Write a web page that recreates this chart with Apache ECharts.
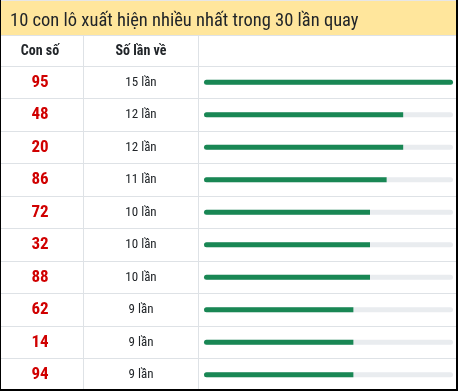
<!DOCTYPE html>
<html><head><meta charset="utf-8">
<script src="https://cdn.jsdelivr.net/npm/echarts@6/dist/echarts.min.js"></script>
<style>html,body{margin:0;padding:0;background:#fff}#c{width:458px;height:391px}</style>
</head><body><div id="c"></div>
<script>
const titleText = '10 con lô xuất hiện nhiều nhất trong 30 lần quay';
const headers = ['Con số', 'Số lần về'];
const numbers = ['95', '48', '20', '86', '72', '32', '88', '62', '14', '94'];
const counts = [15, 12, 12, 11, 10, 10, 10, 9, 9, 9];
const maxCount = 15;
const unit = 'lần';

const FONT = 'Roboto Condensed';
const LINE = '#dee2e6';
const chart = echarts.init(document.getElementById('c'), null, {renderer: 'canvas'});
const top0 = 66, rowsH = 328;

chart.setOption({
  animation: false,
  textStyle: {fontFamily: FONT},
  grid: [
    {left: 0, right: 2, top: top0, height: rowsH},
    {left: 204, right: 5, top: top0, height: rowsH}
  ],
  xAxis: [
    {gridIndex: 0, type: 'value', show: false},
    {gridIndex: 1, type: 'value', min: 0, max: maxCount, show: false}
  ],
  yAxis: [
    {gridIndex: 0, type: 'category', position: 'left', inverse: true, data: numbers,
     axisLine: {show: false}, axisTick: {show: false},
     splitLine: {show: true, lineStyle: {color: LINE, width: 1}},
     axisLabel: {inside: true, margin: 40, align: 'center', color: '#d00000',
       fontWeight: 'bold', fontSize: 17, fontFamily: FONT}},
    {gridIndex: 0, type: 'category', position: 'left', offset: 0, inverse: true, data: numbers,
     axisLine: {show: false}, axisTick: {show: false}, splitLine: {show: false},
     axisLabel: {inside: true, margin: 141, align: 'center', color: '#212529',
       fontSize: 13, fontFamily: FONT,
       formatter: (v, i) => counts[i] + ' ' + unit}},
    {gridIndex: 1, type: 'category', inverse: true, data: numbers, show: false}
  ],
  series: [{
    type: 'bar', xAxisIndex: 1, yAxisIndex: 2,
    barWidth: 5,
    data: counts.map(v => ({value: v, itemStyle: {borderRadius: v >= maxCount ? 2.5 : [2.5, 0, 0, 2.5]}})),
    itemStyle: {color: '#198754'},
    showBackground: true,
    backgroundStyle: {color: '#e9ecef', borderRadius: 2.5}
  }],
  graphic: [
    {type: 'rect', shape: {x: 0, y: 0, width: 458, height: 35}, style: {fill: '#ffe69c'}, silent: true, z: -1},
    {type: 'line', shape: {x1: 0, y1: 0.5, x2: 458, y2: 0.5}, style: {stroke: '#e6e6e6', lineWidth: 1}},
    {type: 'line', shape: {x1: 0, y1: 35.5, x2: 458, y2: 35.5}, style: {stroke: LINE, lineWidth: 1}},
    {type: 'line', shape: {x1: 83.5, y1: 36, x2: 83.5, y2: 391}, style: {stroke: LINE, lineWidth: 1}},
    {type: 'line', shape: {x1: 198.5, y1: 36, x2: 198.5, y2: 391}, style: {stroke: LINE, lineWidth: 1}},
    {type: 'text', x: 10, y: 21, style: {text: titleText, fill: '#212529', font: '18.5px "' + FONT + '"', verticalAlign: 'middle', textVerticalAlign: 'middle'}},
    {type: 'text', x: 40, y: 51, style: {text: headers[0], fill: '#212529', font: 'bold 14px "' + FONT + '"', align: 'center', textAlign: 'center', verticalAlign: 'middle', textVerticalAlign: 'middle'}},
    {type: 'text', x: 141, y: 51, style: {text: headers[1], fill: '#212529', font: 'bold 14px "' + FONT + '"', align: 'center', textAlign: 'center', verticalAlign: 'middle', textVerticalAlign: 'middle'}},
    {type: 'line', shape: {x1: 0.5, y1: 0, x2: 0.5, y2: 391}, style: {stroke: '#000', lineWidth: 1}, z: 100},
    {type: 'line', shape: {x1: 457, y1: 0, x2: 457, y2: 391}, style: {stroke: '#000', lineWidth: 2}, z: 100},
    {type: 'line', shape: {x1: 0, y1: 390, x2: 458, y2: 390}, style: {stroke: '#000', lineWidth: 2}, z: 100}
  ]
});
</script></body></html>
